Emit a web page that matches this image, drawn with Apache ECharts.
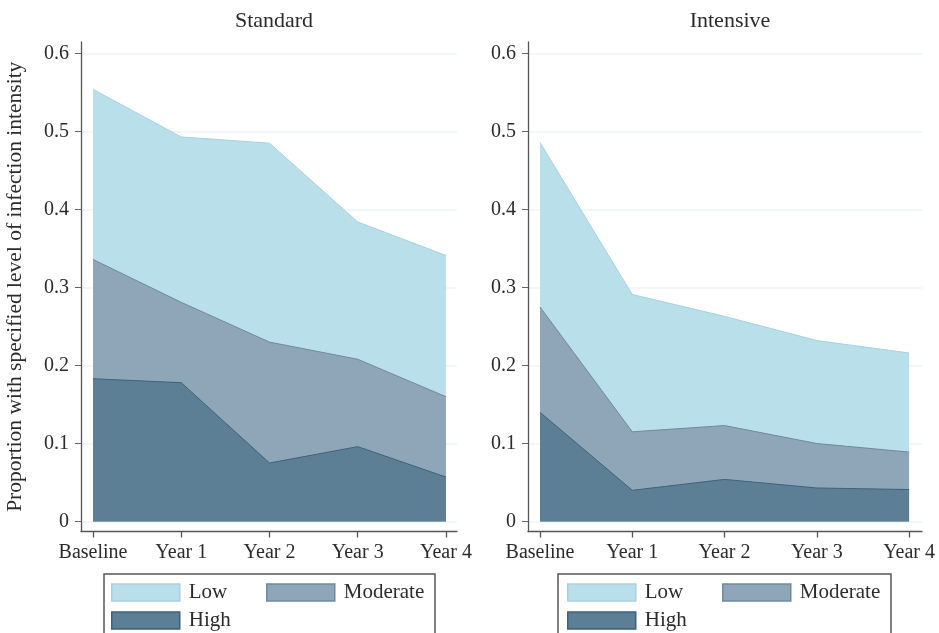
<!DOCTYPE html>
<html>
<head>
<meta charset="utf-8">
<script src="https://cdn.jsdelivr.net/npm/echarts@6/dist/echarts.min.js"></script>
<style>html,body{margin:0;padding:0;background:#fff}#c{width:939px;height:633px}</style>
</head>
<body>
<div id="c"></div>
<script>
var categories = ['Baseline', 'Year 1', 'Year 2', 'Year 3', 'Year 4'];
var yTicks = [0, 0.1, 0.2, 0.3, 0.4, 0.5, 0.6];
var panelTitles = ['Standard', 'Intensive'];
// cumulative levels (top of each band)
var standardLow = [0.554, 0.493, 0.485, 0.384, 0.341];
var standardModerate = [0.336, 0.281, 0.230, 0.208, 0.160];
var standardHigh = [0.183, 0.178, 0.075, 0.096, 0.057];
var intensiveLow = [0.486, 0.291, 0.263, 0.232, 0.216];
var intensiveModerate = [0.275, 0.115, 0.123, 0.100, 0.089];
var intensiveHigh = [0.140, 0.040, 0.054, 0.043, 0.041];

var FONT = 'Liberation Serif';
var TXT = '#2b2b2b';
var colors = {
  Low: {fill: '#b9dfeb', line: '#a6d2e0'},
  Moderate: {fill: '#8fa6b8', line: '#6f8a9e'},
  High: {fill: '#5c7f96', line: '#3f6279'}
};

function pts(arr) { return arr.map(function (v, i) { return [i, v]; }); }

function mkSeries(name, arr, idx) {
  return {
    name: name, type: 'line', xAxisIndex: idx, yAxisIndex: idx,
    data: pts(arr), showSymbol: false, symbol: 'none', silent: true,
    lineStyle: {color: colors[name].line, width: 1},
    areaStyle: {color: colors[name].fill, opacity: 1, origin: 'auto'},
    itemStyle: {color: colors[name].fill},
    z: name === 'Low' ? 2 : (name === 'Moderate' ? 3 : 4)
  };
}

var grids = [
  {left: 81, right: 482, top: 42, bottom: 101.5, containLabel: false, outerBoundsMode: 'none'},
  {left: 528, right: 17, top: 42, bottom: 101.5, containLabel: false, outerBoundsMode: 'none'}
];
var xr = [[-0.136, 4.125], [-0.13, 4.14]];

function xAxis(i) {
  return {
    type: 'value', gridIndex: i, min: xr[i][0], max: xr[i][1],
    axisLine: {show: true, onZero: false, lineStyle: {color: '#555', width: 1.3}},
    axisTick: {show: true, customValues: [0, 1, 2, 3, 4], length: 6, lineStyle: {color: '#555', width: 1.3}},
    axisLabel: {customValues: [0, 1, 2, 3, 4], margin: 11, fontFamily: FONT, fontSize: 20, color: TXT,
      formatter: function (v) { return categories[Math.round(v)]; }},
    splitLine: {show: false}
  };
}
function yAxis(i) {
  return {
    type: 'value', gridIndex: i, min: -0.0128, max: 0.6147,
    name: i === 0 ? 'Proportion with specified level of infection intensity' : '',
    nameLocation: 'middle', nameGap: 55, nameRotate: 90,
    nameTextStyle: {fontFamily: FONT, fontSize: 21.5, color: TXT},
    axisLine: {show: true, onZero: false, lineStyle: {color: '#555', width: 1.3}},
    axisTick: {show: true, customValues: yTicks, length: 6, lineStyle: {color: '#666', width: 1}},
    axisLabel: {customValues: yTicks, margin: 12, fontFamily: FONT, fontSize: 20, color: TXT,
      formatter: function (v) { return v === 0 ? '0' : v.toFixed(1); }},
    splitLine: {show: true, lineStyle: {color: '#eef4f7', width: 1.5}}
  };
}

var legendItems = [
  {name: 'Low', dx: 0, dy: 0},
  {name: 'Moderate', dx: 155, dy: 0},
  {name: 'High', dx: 0, dy: 28}
];
var legendOrigins = [[111, 582], [567, 582]];
var legends = [];
legendOrigins.forEach(function (o) {
  legendItems.forEach(function (it) {
    legends.push({
      left: o[0] + it.dx, top: o[1] + it.dy, itemWidth: 68, itemHeight: 17, padding: 0,
      selectedMode: false, icon: 'rect',
      textStyle: {fontFamily: FONT, fontSize: 21, color: TXT, padding: [0, 0, 0, 4]},
      data: [{name: it.name, itemStyle: {color: colors[it.name].fill, borderColor: colors[it.name].line, borderWidth: 1.5}}]
    });
  });
});

var option = {
  backgroundColor: '#fff',
  animation: false,
  title: [
    {text: panelTitles[0], left: 269, top: 5, textAlign: 'center', textStyle: {fontFamily: FONT, fontSize: 22, fontWeight: 'normal', color: TXT}},
    {text: panelTitles[1], left: 725, top: 5, textAlign: 'center', textStyle: {fontFamily: FONT, fontSize: 22, fontWeight: 'normal', color: TXT}}
  ],
  grid: grids,
  xAxis: [xAxis(0), xAxis(1)],
  yAxis: [yAxis(0), yAxis(1)],
  legend: legends,
  graphic: [
    {type: 'rect', shape: {x: 104, y: 574, width: 331, height: 70}, style: {fill: 'none', stroke: '#555', lineWidth: 1.5}, z: 0},
    {type: 'rect', shape: {x: 558, y: 574, width: 333, height: 70}, style: {fill: 'none', stroke: '#555', lineWidth: 1.5}, z: 0}
  ],
  series: [
    mkSeries('Low', standardLow, 0),
    mkSeries('Moderate', standardModerate, 0),
    mkSeries('High', standardHigh, 0),
    mkSeries('Low', intensiveLow, 1),
    mkSeries('Moderate', intensiveModerate, 1),
    mkSeries('High', intensiveHigh, 1)
  ]
};
var chart = echarts.init(document.getElementById('c'), null, {renderer: 'canvas'});
chart.setOption(option);
</script>
</body>
</html>
